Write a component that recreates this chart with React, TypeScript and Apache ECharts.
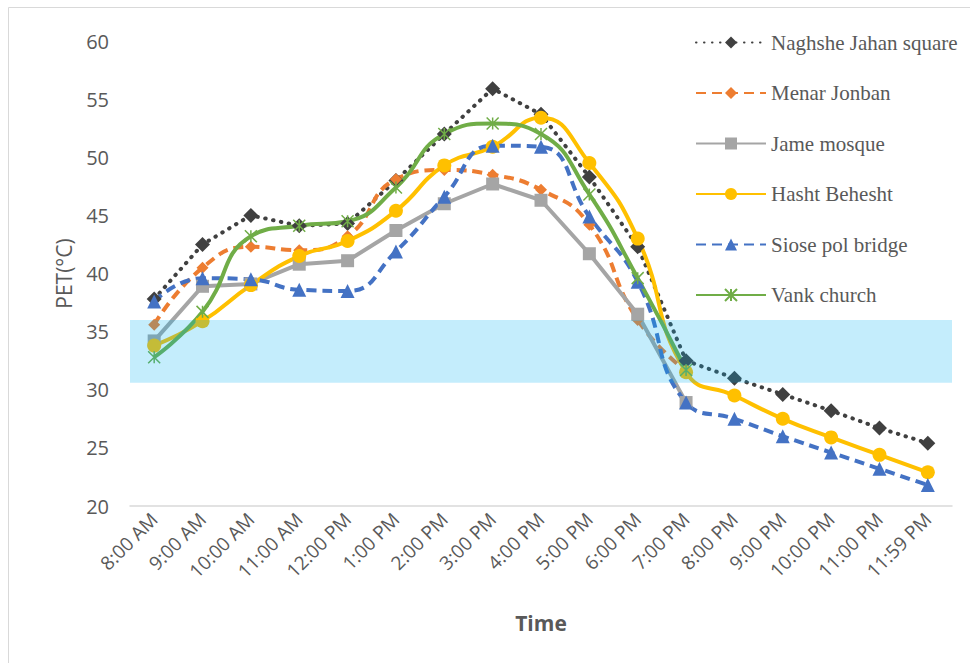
import React, { useEffect, useRef } from "react";
import * as echarts from "echarts";

const times = [
  "8:00 AM", "9:00 AM", "10:00 AM", "11:00 AM", "12:00 PM", "1:00 PM", "2:00 PM", "3:00 PM",
  "4:00 PM", "5:00 PM", "6:00 PM", "7:00 PM", "8:00 PM", "9:00 PM", "10:00 PM", "11:00 PM", "11:59 PM",
];

const naghsheJahan = [37.8, 42.5, 45.0, 44.1, 44.3, 48.0, 52.0, 55.9, 53.7, 48.3, 42.3, 32.5, 31.0, 29.6, 28.2, 26.7, 25.4];
const menarJonban = [35.6, 40.5, 42.3, 42.0, 43.2, 48.1, 48.9, 48.5, 47.2, 44.2, 36.0, 31.6];
const jameMosque = [34.2, 38.9, 39.1, 40.8, 41.1, 43.7, 46.0, 47.7, 46.3, 41.7, 36.5, 28.9];
const hashtBehesht = [33.8, 35.9, 39.0, 41.5, 42.8, 45.4, 49.3, 50.9, 53.4, 49.5, 43.0, 31.5, 29.5, 27.5, 25.9, 24.4, 22.9];
const siosePol = [37.6, 39.6, 39.5, 38.6, 38.5, 41.9, 46.6, 51.0, 50.9, 44.9, 39.3, 28.9, 27.5, 26.0, 24.6, 23.2, 21.8];
const vankChurch = [32.8, 36.7, 43.2, 44.1, 44.5, 47.4, 52.0, 52.9, 52.0, 46.8, 39.6, 31.7];

const comfortRange = [30.6, 36.0];

const seriesNames = [
  "Naghshe Jahan square",
  "Menar Jonban",
  "Jame mosque",
  "Hasht Behesht",
  "Siose pol bridge",
  "Vank church",
];

const STAR = "path://M0,0L10,10M10,0L0,10M5,0L5,10";

export default function App() {
  const ref = useRef<HTMLDivElement>(null);

  useEffect(() => {
    if (!ref.current) return;
    const chart = echarts.init(ref.current, undefined, { renderer: "svg" });
    const labelColor = "#595959";
    const sans = "'Open Sans', 'Noto Sans', sans-serif";

    const option: any = {
      animation: false,
      backgroundColor: "#ffffff",
      grid: { left: 130, right: 18, top: 41, bottom: 157, containLabel: false },
      graphic: [
        {
          type: "rect",
          shape: { x: 8.5, y: 7.5, width: 1000, height: 700 },
          style: { fill: "none", stroke: "#D9D9D9", lineWidth: 1 },
          silent: true,
          z: -1,
        },
      ],
      legend: {
        orient: "vertical",
        left: 690,
        top: 27,
        itemWidth: 70,
        itemHeight: 15,
        itemGap: 29.5,
        data: seriesNames,
        textStyle: { fontFamily: "'Liberation Serif', 'Times New Roman', serif", fontSize: 21, color: labelColor },
      },
      xAxis: {
        type: "category",
        data: times,
        boundaryGap: true,
        name: "Time",
        nameLocation: "middle",
        nameGap: 106,
        nameTextStyle: { fontFamily: sans, fontSize: 21, fontWeight: "bold", color: labelColor },
        axisLine: { lineStyle: { color: "#D9D9D9", width: 1.5 } },
        axisTick: { show: false },
        axisLabel: {
          rotate: 45,
          interval: 0,
          margin: 10,
          fontFamily: sans,
          fontSize: 19,
          color: labelColor,
        },
        splitLine: { show: false },
      },
      yAxis: {
        type: "value",
        min: 20,
        max: 60,
        interval: 5,
        name: "PET(°C)",
        nameLocation: "middle",
        nameGap: 56,
        nameTextStyle: { fontFamily: sans, fontSize: 21, color: labelColor },
        axisLine: { show: false },
        axisTick: { show: false },
        splitLine: { show: false },
        axisLabel: { margin: 21, fontFamily: sans, fontSize: 20, color: labelColor },
      },
      series: [
        {
          name: seriesNames[0],
          type: "line",
          data: naghsheJahan,
          smooth: false,
          color: "#404040",
          symbol: "diamond",
          symbolSize: 15,
          lineStyle: { color: "#404040", width: 4, type: [0.5, 7.5], cap: "round" },
          itemStyle: { color: "#404040" },
          markArea: {
            silent: true,
            z: 10,
            itemStyle: { color: "rgba(0,176,240,0.23)" },
            data: [[{ yAxis: comfortRange[0] }, { yAxis: comfortRange[1] }]],
          },
        },
        {
          name: seriesNames[1],
          type: "line",
          data: menarJonban,
          smooth: true,
          color: "#ED7D31",
          symbol: "diamond",
          symbolSize: 12,
          lineStyle: { color: "#ED7D31", width: 4, type: [10, 6] },
          itemStyle: { color: "#ED7D31" },
        },
        {
          name: seriesNames[2],
          type: "line",
          data: jameMosque,
          smooth: false,
          color: "#A5A5A5",
          symbol: "rect",
          symbolSize: 13,
          lineStyle: { color: "#A5A5A5", width: 4 },
          itemStyle: { color: "#A5A5A5" },
        },
        {
          name: seriesNames[3],
          type: "line",
          data: hashtBehesht,
          smooth: true,
          color: "#FFC000",
          symbol: "circle",
          symbolSize: 14,
          lineStyle: { color: "#FFC000", width: 4 },
          itemStyle: { color: "#FFC000" },
        },
        {
          name: seriesNames[4],
          type: "line",
          data: siosePol,
          smooth: true,
          color: "#4472C4",
          symbol: "triangle",
          symbolSize: 14,
          lineStyle: { color: "#4472C4", width: 4, type: [10, 6] },
          itemStyle: { color: "#4472C4" },
        },
        {
          name: seriesNames[5],
          type: "line",
          data: vankChurch,
          smooth: true,
          color: "#70AD47",
          symbol: STAR,
          symbolSize: 12,
          lineStyle: { color: "#70AD47", width: 4 },
          itemStyle: { color: "rgba(0,0,0,0)", borderColor: "#70AD47", borderWidth: 1.5 },
        },
      ],
    };

    chart.setOption(option);
    return () => chart.dispose();
  }, []);

  return (
    <div
      ref={ref}
      style={{ position: "fixed", left: 0, top: 0, width: 970, height: 663, background: "#fff" }}
    />
  );
}
